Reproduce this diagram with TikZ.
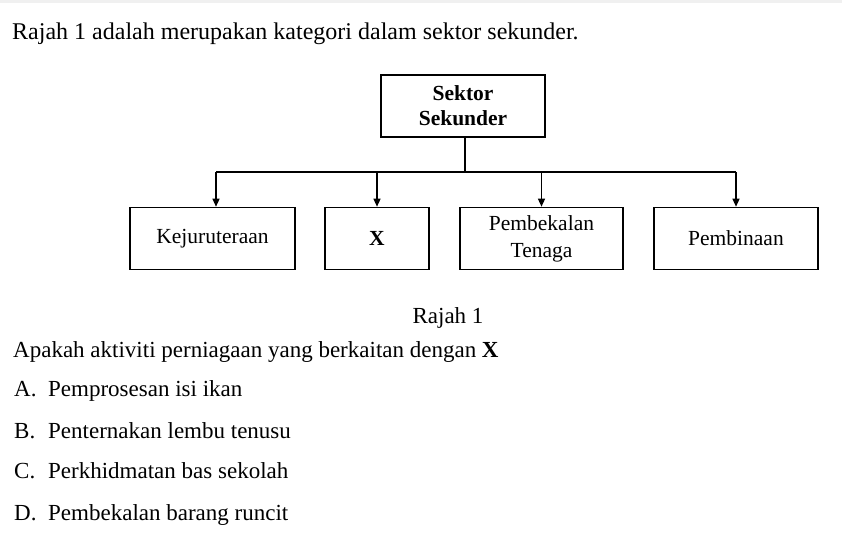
\documentclass[tikz,border=0pt]{standalone}
\usepackage{fontspec}
\setmainfont{Liberation Serif}
\usetikzlibrary{arrows.meta}
\tikzset{
  box/.style={draw, line width=1.6pt, minimum height=62pt, align=center, inner sep=0pt, font=\fontsize{21.5}{25}\selectfont},
  conn/.style={line width=1.3pt},
  arr/.style={line width=1.3pt, -{Triangle[length=8pt,width=7pt]}},
  txt/.style={anchor=base west, inner sep=0pt, font=\fontsize{23}{27}\selectfont}
}
\newcommand{\optl}[1]{\makebox[34pt][l]{#1}}
\begin{document}
\begin{tikzpicture}[x=1pt,y=-1pt]
\useasboundingbox (0,0) rectangle (842,557);
\fill[white] (0,0) rectangle (842,557);
\fill[black!6] (0,0) rectangle (842,3);
\node[txt, font=\fontsize{24}{28}\selectfont] (intro) at (12,39) {Rajah 1 adalah merupakan kategori dalam sektor sekunder.};
\node[box, minimum width=164pt, font=\bfseries\fontsize{21.5}{25}\selectfont] (top) at (463,106) {Sektor\\Sekunder};
\node[box, minimum width=165pt] (k) at (212.5,238.5) {Kejuruteraan};
\node[box, minimum width=104pt, font=\bfseries\fontsize{21.5}{25}\selectfont] (x) at (377,238.5) {X};
\node[box, minimum width=163pt, font=\fontsize{21.5}{27}\selectfont] (p) at (541.5,238.5) {Pembekalan\\Tenaga};
\node[box, minimum width=164pt] (b) at (736,238.5) {Pembinaan};
\coordinate (j) at (465,172);
\coordinate (jl) at (216,172);
\coordinate (jr) at (736,172);
\draw[conn] (top.south -| j) -- (j);
\draw[conn] (jl) -- (jr);
\draw[arr] (jl) -- (jl |- k.north);
\draw[arr] (j -| x.north) -- (x.north);
\draw[arr] (j -| p.north) -- (p.north);
\draw[arr] (jr) -- (b.north);
\node[anchor=base, inner sep=0pt, font=\fontsize{23}{27}\selectfont] (cap) at (448,323) {Rajah 1};
\node[txt] (q) at (13,357) {Apakah aktiviti perniagaan yang berkaitan dengan \textbf{X}};
\node[txt] (a) at (14,396) {\optl{A.}Pemprosesan isi ikan};
\node[txt] (bb) at (14,438) {\optl{B.}Penternakan lembu tenusu};
\node[txt] (c) at (14,478) {\optl{C.}Perkhidmatan bas sekolah};
\node[txt] (d) at (14,520) {\optl{D.}Pembekalan barang runcit};
\end{tikzpicture}
\end{document}
